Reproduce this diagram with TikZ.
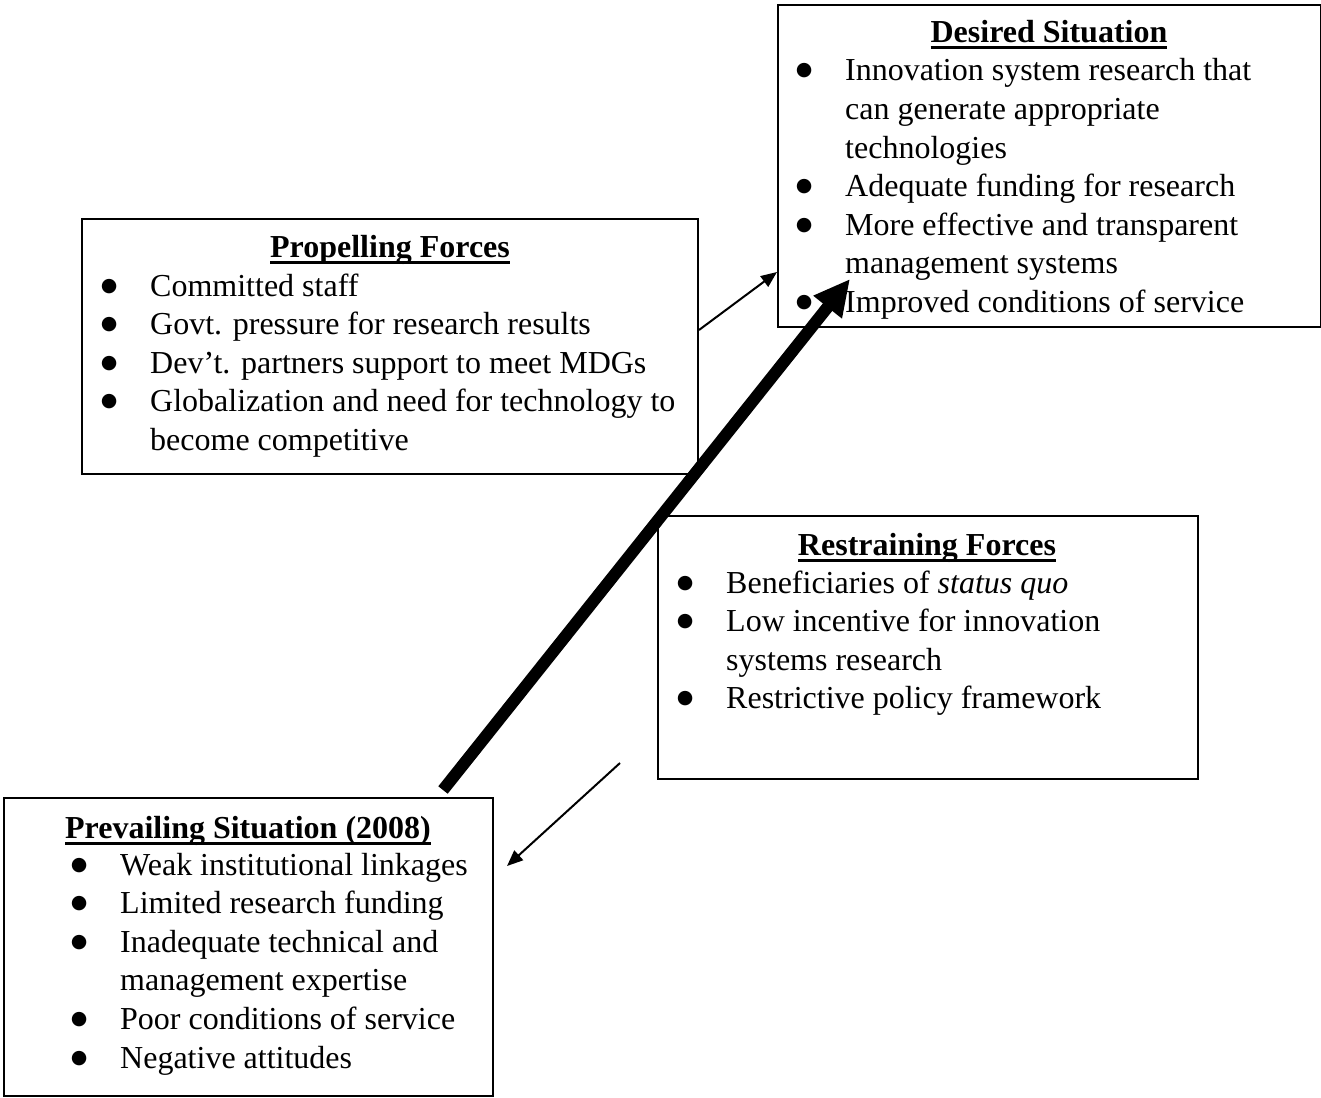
\documentclass[tikz,border=0pt]{standalone}
\usepackage{fontspec}
\setmainfont{Liberation Serif}
\newfontfamily\bulfont{DejaVu Sans}
\usetikzlibrary{arrows.meta,calc}
\newcommand\bodyfont{\fontsize{32}{38.6}\selectfont}
\newcommand\ulin[1]{\setbox0=\hbox{#1}\rlap{\vrule height -3.5pt depth 6.5pt width \wd0}\box0}
\newcommand\bigbul{\raisebox{5pt}{\bulfont\fontsize{19}{19}\selectfont ●}}
\newcommand\itm[1]{\hbox to 0pt{\hss\bigbul\hss}\hspace{41pt}#1\\}
\newcommand\cnt[1]{\hspace{41pt}#1\\}
\newcommand\blist[1]{\begin{tabular}[t]{@{}l@{}}#1\end{tabular}}
\tikzset{
  box/.style={draw, line width=2pt, inner sep=0pt, anchor=north west},
  txt/.style={inner sep=0pt, anchor=base west, font=\bodyfont},
  ttl/.style={inner sep=0pt, anchor=base, font=\bodyfont\bfseries},
  thinarr/.style={line width=2pt, -{Triangle[length=16pt,width=13pt]}},
  thickarr/.style={line width=12pt, -{Triangle[length=36pt,width=34pt]}}
}
\begin{document}
\begin{tikzpicture}[x=1pt,y=1pt]
\useasboundingbox (0,0) rectangle (1321,-1097);
% boxes
\node[box, minimum width=543pt, minimum height=322pt] (desired) at (777,-4) {};
\node[box, minimum width=616pt, minimum height=255pt] (prop) at (81,-218) {};
\node[box, minimum width=540pt, minimum height=263pt] (restr) at (657,-515) {};
\node[box, minimum width=489pt, minimum height=298pt] (prev) at (3,-797) {};
% titles
\node[ttl] (desiredT) at (1049,-43) {\ulin{Desired Situation}};
\node[ttl] (propT) at (390,-257) {\ulin{Propelling Forces}};
\node[ttl] (restrT) at (927,-555) {\ulin{Restraining Forces}};
\node[ttl] (prevT) at (248,-838) {\ulin{Prevailing Situation (2008)}};
% lists
\node[txt] (desiredL) at (804,-81) {\blist{%
\itm{Innovation system research that}
\cnt{can generate appropriate}
\cnt{technologies}
\itm{Adequate funding for research}
\itm{More effective and transparent}
\cnt{management systems}
\itm{Improved conditions of service}}};
\node[txt] (propL) at (109,-296) {\blist{%
\itm{Committed staff}
\itm{Govt. pressure for research results}
\itm{Dev’t. partners support to meet MDGs}
\itm{Globalization and need for technology to}
\cnt{become competitive}}};
\node[txt] (restrL) at (685,-593) {\blist{%
\itm{Beneficiaries of \textit{status quo}}
\itm{Low incentive for innovation}
\cnt{systems research}
\itm{Restrictive policy framework}}};
\node[txt] (prevL) at (79,-875) {\blist{%
\itm{Weak institutional linkages}
\itm{Limited research funding}
\itm{Inadequate technical and}
\cnt{management expertise}
\itm{Poor conditions of service}
\itm{Negative attitudes}}};
% arrows
\draw[thinarr] (prop.east |- 0,-330) -- (desired.west |- 0,-272);
\draw[thickarr] ($(prev.north)+(194.5,7)$) -- ($(desired.south west)+(73,49)$);
\coordinate (rs) at (620,-763);
\draw[thinarr] (rs) -- ($(prev.north east)+(13,-69)$);
\end{tikzpicture}
\end{document}
